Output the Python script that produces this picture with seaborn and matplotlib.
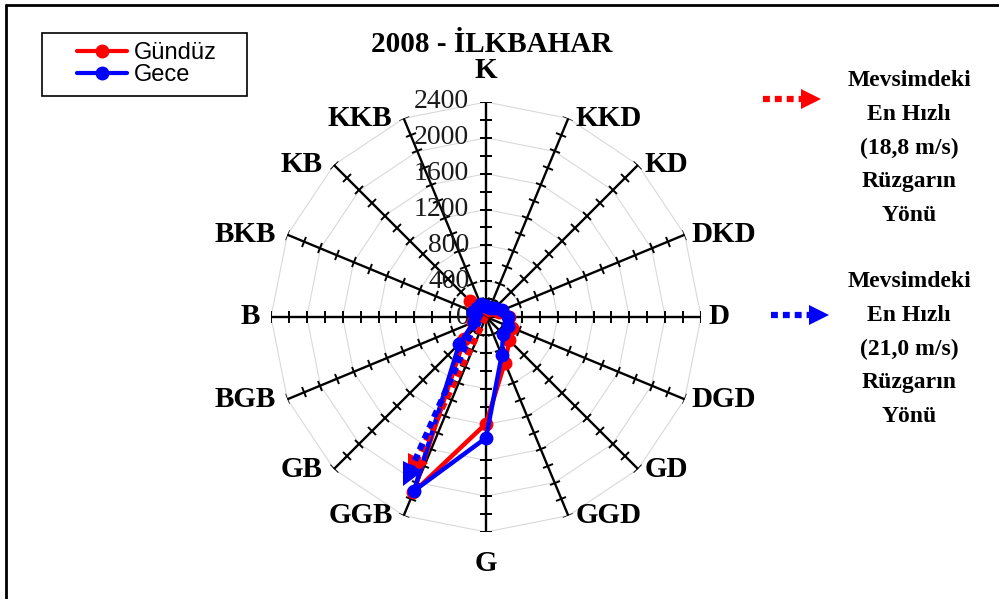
import numpy as np
import pandas as pd
import matplotlib
matplotlib.use('Agg')
import matplotlib.pyplot as plt
from matplotlib.markers import MarkerStyle
from matplotlib.transforms import Affine2D
from matplotlib.lines import Line2D
from matplotlib.patches import Rectangle
import seaborn as sns


DIRECTIONS = ['K', 'KKD', 'KD', 'DKD', 'D', 'DGD', 'GD', 'GGD',
              'G', 'GGB', 'GB', 'BGB', 'B', 'BKB', 'KB', 'KKB']
GUNDUZ = [100, 90, 120, 160, 260, 320, 370, 550,
          1190, 2120, 340, 160, 110, 130, 250, 140]
GECE = [120, 110, 140, 190, 240, 270, 270, 460,
        1350, 2100, 420, 140, 100, 160, 140, 160]
R_TICKS = [0, 400, 800, 1200, 1600, 2000, 2400]
R_MAX = 2400
TITLE = '2008 - İLKBAHAR'
MAX_WIND_TEXT = {
    'Gündüz': 'Mevsimdeki\nEn Hızlı\n(18,8 m/s)\nRüzgarın\nYönü',
    'Gece': 'Mevsimdeki\nEn Hızlı\n(21,0 m/s)\nRüzgarın\nYönü',
}

COLORS = {'Gündüz': '#FF0000', 'Gece': '#0000FF'}

sns.set_style('white')
plt.rcParams['font.family'] = ['Liberation Serif', 'DejaVu Serif']
plt.rcParams['text.color'] = 'black'

fig = plt.figure(figsize=(9.99, 5.99), dpi=100)
ax = fig.add_axes([271 / 999, 67 / 599, 430 / 999, 430 / 599], projection='polar')
ax.set_theta_zero_location('N')
ax.set_theta_direction(-1)
ax.set_ylim(0, R_MAX)
ax.grid(False)
ax.spines['polar'].set_visible(False)
ax.set_xticks([])
ax.set_yticks([])
ax.set_facecolor('none')

n = len(DIRECTIONS)
angles_deg = np.arange(n) * 360 / n
angles = np.deg2rad(angles_deg)
closed = np.append(angles, angles[0])

# polygon grid
for r in R_TICKS[1:]:
    ax.plot(closed, [r] * (n + 1), color='#d9d9d9', lw=0.8, zorder=1)

# spokes with tick marks
for a, a_deg in zip(angles, angles_deg):
    ax.plot([a, a], [0, R_MAX], color='black', lw=1.7, zorder=2)
    tick = MarkerStyle('|', transform=Affine2D().rotate_deg(90 - a_deg))
    rs = np.arange(200, R_MAX + 1, 200)
    ax.plot([a] * len(rs), rs, ls='none', marker=tick, markersize=8,
            markeredgewidth=1.4, color='black', zorder=2)

# radial labels
for r in R_TICKS:
    ax.annotate(str(r), xy=(0, r), xytext=(-12, 0), textcoords='offset points',
                ha='right', va='center', fontsize=20, color='#1a1a1a', zorder=3)

# direction labels
for lab, a, a_deg in zip(DIRECTIONS, angles, angles_deg):
    s, c = np.sin(a), np.cos(a)
    if abs(s) < 0.1:
        ha = 'center'
        va = 'bottom' if c > 0 else 'top'
        off = (0, 13 if c > 0 else -13)
    elif s > 0:
        ha, va, off = 'left', 'center', (5, 0)
    else:
        ha, va, off = 'right', 'center', (-8, 0)
    ax.annotate(lab, xy=(a, R_MAX), xytext=off, textcoords='offset points',
                ha=ha, va=va, fontsize=21, fontweight='bold', zorder=3)

# data
frames = []
for name, vals in [('Gündüz', GUNDUZ), ('Gece', GECE)]:
    frames.append(pd.DataFrame({
        'theta': closed,
        'value': vals + vals[:1],
        'series': name,
    }))
df = pd.concat(frames, ignore_index=True)

sns.lineplot(data=df, x='theta', y='value', hue='series', units='series',
             estimator=None, sort=False, palette=COLORS, marker='o',
             markersize=10, markeredgewidth=0, linewidth=3.2, ax=ax, zorder=5,
             legend=False)
ax.set_xlabel('')
ax.set_ylabel('')
ax.set_ylim(0, R_MAX)

# dotted arrows toward the direction of the fastest wind
arrows = {'Gündüz': (0, 0, 205.8, 1870), 'Gece': (303, 80, 206.1, 1975)}
for name, (a0, r0, a1, r1) in arrows.items():
    ax.plot(np.deg2rad([a0, a1]), [r0, r1], color=COLORS[name], lw=4.5,
            ls=(0, (1.1, 0.8)), zorder=6)
    head = MarkerStyle('^', transform=Affine2D().rotate_deg(-a1))
    ax.plot([np.deg2rad(a1)], [r1], marker=head, markersize=16,
            color=COLORS[name], markeredgewidth=0, zorder=6)

# title
fig.text(492 / 999, 1 - 45 / 599, TITLE, ha='center', va='center',
         fontsize=21, fontweight='bold')

# legend with frame
fig.patches.append(Rectangle((42 / 999, 1 - 96 / 599), 205 / 999, 63 / 599,
                             transform=fig.transFigure, fill=False,
                             edgecolor='black', lw=1.2))
handles = [Line2D([], [], color=COLORS[k], lw=3, marker='o', markersize=9)
           for k in COLORS]
fig.legend(handles, list(COLORS), loc='center left',
           bbox_to_anchor=(77 / 999, 1 - 64 / 599), frameon=False,
           prop={'family': 'Liberation Sans', 'size': 17},
           handlelength=2.1, handletextpad=0.3, labelspacing=0.0,
           borderpad=0, borderaxespad=0)

# right-hand notes with arrows
for name, y_arrow, y_text in [('Gündüz', 99, 148), ('Gece', 315, 349)]:
    x0, x1 = (763, 818) if name == 'Gündüz' else (771, 826)
    fig.add_artist(Line2D([x0 / 999, (x1 - 14) / 999], [1 - y_arrow / 599] * 2,
                          transform=fig.transFigure, color=COLORS[name],
                          lw=4.5, ls=(0, (1.1, 0.8))))
    fig.add_artist(Line2D([(x1 - 7) / 999], [1 - y_arrow / 599],
                          transform=fig.transFigure, marker='>',
                          markersize=14, markeredgewidth=0,
                          color=COLORS[name]))
    fig.text(909 / 999, 1 - y_text / 599, MAX_WIND_TEXT[name], ha='center',
             va='center', ma='center', fontsize=17, fontweight='bold',
             linespacing=1.78)

# outer frame (left and top)
fig.add_artist(Line2D([6 / 999, 6 / 999], [0, 1 - 5 / 599],
                      transform=fig.transFigure, color='black', lw=2))
fig.add_artist(Line2D([6 / 999, 1], [1 - 5 / 599, 1 - 5 / 599],
                      transform=fig.transFigure, color='black', lw=2))

fig.savefig('out.png', dpi=100)
